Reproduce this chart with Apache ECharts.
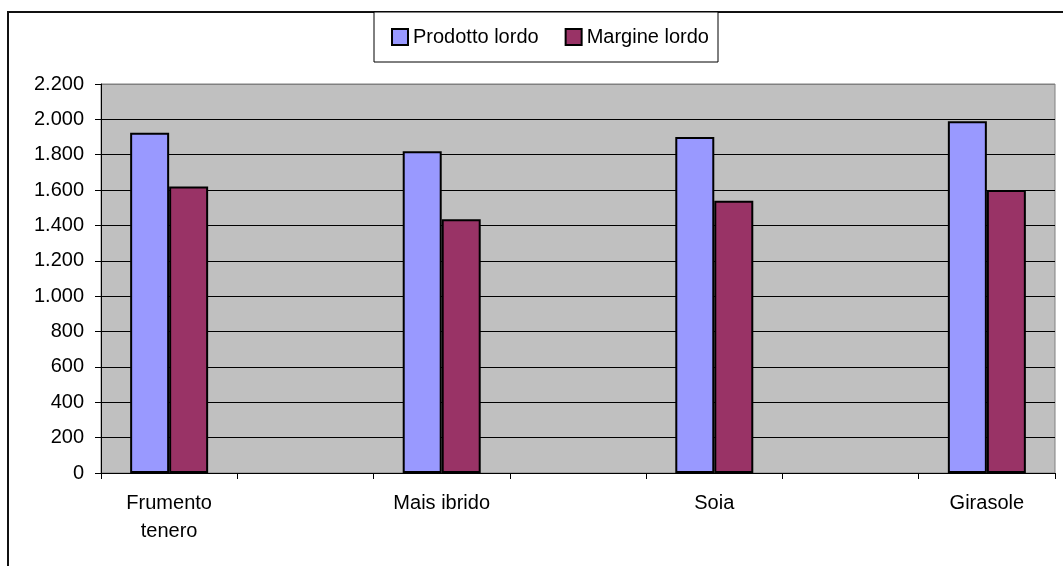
<!DOCTYPE html>
<html>
<head>
<meta charset="utf-8">
<script src="https://cdn.jsdelivr.net/npm/echarts@6/dist/echarts.min.js"></script>
<style>
  html, body { margin: 0; padding: 0; background: #fff; }
  #chart { width: 1063px; height: 566px; }
</style>
</head>
<body>
<div id="chart"></div>
<script>
// Crops and their gross product / gross margin
const crops = ['Frumento\ntenero', 'Mais ibrido', 'Soia', 'Girasole'];
const prodottoLordo = [1925, 1820, 1900, 1990];
const margineLordo = [1620, 1435, 1540, 1600];
const seriesNames = ['Prodotto lordo', 'Margine lordo'];
const yTicks = { min: 0, max: 2200, step: 200 };

// Each crop sits in its own slot, with an empty slot between crops
function spread(values, filler) {
  const out = [];
  values.forEach((v, i) => {
    if (i > 0) out.push(filler);
    out.push(v);
  });
  return out;
}
const slots = spread(crops, '');
const prodottoSlots = spread(prodottoLordo, null);
const margineSlots = spread(margineLordo, null);

const FONT = "'Liberation Sans', Arial, sans-serif";
const fmt = v => String(v).replace(/\B(?=(\d{3})+(?!\d))/g, '.');

const gridLines = [];
for (let v = yTicks.min; v <= yTicks.max; v += yTicks.step) {
  gridLines.push(v === yTicks.max ? '#808080' : '#000000');
}

const chart = echarts.init(document.getElementById('chart'), null, { renderer: 'canvas' });
chart.setOption({
  animation: false,
  backgroundColor: '#ffffff',
  textStyle: { fontFamily: FONT },
  graphic: [
    {
      type: 'rect', z: 0,
      shape: { x: 8, y: 12, width: 1100, height: 600 },
      style: { fill: null, stroke: '#111', lineWidth: 2 }
    },
    {
      type: 'rect', z: 1,
      shape: { x: 374, y: 12, width: 344, height: 50 },
      style: { fill: '#ffffff', stroke: '#000', lineWidth: 1 }
    }
  ],
  legend: {
    left: 391, top: 27, padding: 0,
    itemWidth: 16, itemHeight: 16, itemGap: 26,
    icon: 'rect',
    textStyle: { fontSize: 20, color: '#000', fontFamily: FONT },
    data: seriesNames
  },
  grid: {
    left: 101, right: 8, top: 84, bottom: 93,
    show: true, backgroundColor: '#C0C0C0',
    borderColor: '#808080', borderWidth: 1
  },
  xAxis: {
    type: 'category',
    data: slots,
    boundaryGap: true,
    axisLine: { lineStyle: { color: '#000', width: 1 } },
    axisTick: { show: true, interval: 0, length: 6, lineStyle: { color: '#000' } },
    axisLabel: {
      interval: 0, margin: 16, color: '#000', fontSize: 20,
      lineHeight: 28, fontFamily: FONT
    },
    splitLine: { show: false }
  },
  yAxis: {
    type: 'value',
    min: yTicks.min, max: yTicks.max, interval: yTicks.step,
    axisLine: { show: true, lineStyle: { color: '#000', width: 1 } },
    axisTick: { show: true, length: 6, lineStyle: { color: '#000' } },
    axisLabel: {
      margin: 17, color: '#000', fontSize: 20, fontFamily: FONT,
      formatter: fmt
    },
    splitLine: { show: true, lineStyle: { color: gridLines, width: 1 } }
  },
  series: [
    {
      name: seriesNames[0], type: 'bar',
      data: prodottoSlots,
      barWidth: 39, barGap: '0%',
      itemStyle: { color: '#9999FF', borderColor: '#000', borderWidth: 2 }
    },
    {
      name: seriesNames[1], type: 'bar',
      data: margineSlots,
      barWidth: 39, barGap: '0%',
      itemStyle: { color: '#993366', borderColor: '#000', borderWidth: 2 }
    }
  ]
});
</script>
</body>
</html>
